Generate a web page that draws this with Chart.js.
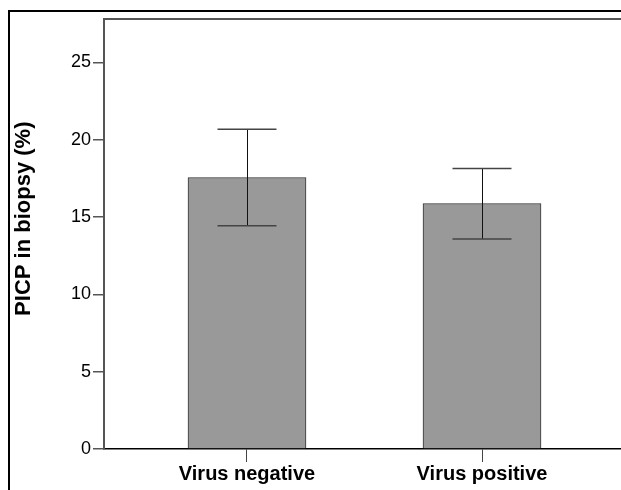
<!DOCTYPE html>
<html>
<head>
<meta charset="utf-8">
<script src="https://cdn.jsdelivr.net/npm/chart.js@4.4.0/dist/chart.umd.min.js"></script>
<style>
    html, body { margin: 0; padding: 0; background: #fff; overflow: hidden; width: 621px; height: 490px; }
    #frame { position: absolute; left: 8px; top: 10px; width: 700px; height: 520px; border-left: 2px solid #000; border-top: 2px solid #000; }
    #wrap { position: absolute; left: 0; top: 0; width: 640px; height: 490px; }
</style>
</head>
<body>
<div id="frame"></div>
<div id="wrap"><canvas id="chart"></canvas></div>
<script>
const categories = ['Virus negative', 'Virus positive'];
const means = [17.55, 15.87];
const errHigh = [20.67, 18.13];
const errLow = [14.43, 13.57];
const yTicks = [0, 5, 10, 15, 20, 25];

// error bars drawn from the data through the scales
const errorBars = {
    id: 'errorBars',
    afterDatasetsDraw(chart) {
        const { ctx, scales } = chart;
        const cap = 29.5;
        ctx.save();
        categories.forEach((c, i) => {
            const x = scales.x.getPixelForValue(i);
            const yh = scales.y.getPixelForValue(errHigh[i]);
            const yl = scales.y.getPixelForValue(errLow[i]);
            ctx.strokeStyle = '#111';
            ctx.lineWidth = 1;
            ctx.beginPath();
            ctx.moveTo(Math.round(x) + 0.5, yh);
            ctx.lineTo(Math.round(x) + 0.5, yl);
            ctx.stroke();
            ctx.strokeStyle = '#444';
            ctx.lineWidth = 1.5;
            ctx.beginPath();
            ctx.moveTo(x - cap, yh);
            ctx.lineTo(x + cap, yh);
            ctx.moveTo(x - cap, yl);
            ctx.lineTo(x + cap, yl);
            ctx.stroke();
        });
        ctx.restore();
    }
};

// top line of the plot frame
const topLine = {
    id: 'topLine',
    afterDraw(chart) {
        const { ctx, chartArea } = chart;
        ctx.save();
        ctx.strokeStyle = '#555';
        ctx.lineWidth = 2;
        ctx.beginPath();
        ctx.moveTo(chartArea.left, chartArea.top);
        ctx.lineTo(chart.width, chartArea.top);
        ctx.stroke();
        ctx.restore();
    }
};

const font = "'Liberation Sans', Arial, sans-serif";

new Chart(document.getElementById('chart'), {
    type: 'bar',
    data: {
        datasets: [{
            data: categories.map((c, i) => ({ x: i, y: means[i] })),
            backgroundColor: '#999999',
            borderColor: '#333333',
            borderWidth: 1,
            borderSkipped: 'bottom',
            barThickness: 118
        }]
    },
    options: {
        responsive: true,
        maintainAspectRatio: false,
        animation: false,
        layout: { padding: { top: 19, right: 15, left: 0, bottom: 0 } },
        plugins: { legend: { display: false }, tooltip: { enabled: false } },
        scales: {
            x: {
                type: 'linear',
                offset: false,
                min: -0.6085,
                max: 1.6085,
                afterBuildTicks: scale => { scale.ticks = categories.map((c, i) => ({ value: i })); },
                afterFit: scale => { scale.height = 41; },
                ticks: {
                    autoSkip: false,
                    maxRotation: 0,
                    padding: 0,
                    color: '#000',
                    font: { family: font, size: 20, weight: 'bold' },
                    callback: v => categories[v]
                },
                grid: { offset: false, drawOnChartArea: false, tickLength: 13, color: '#444', lineWidth: 1 },
                border: { color: '#000', width: 1.5 }
            },
            y: {
                min: 0,
                max: 27.8,
                afterBuildTicks: scale => { scale.ticks = yTicks.map(v => ({ value: v })); },
                afterFit: scale => { scale.width = 104; },
                ticks: {
                    padding: 2,
                    color: '#000',
                    font: { family: font, size: 18 }
                },
                grid: { drawOnChartArea: false, tickLength: 11, color: '#555', lineWidth: 1.5 },
                border: { color: '#555', width: 2 },
                title: {
                    display: true,
                    text: '\u00a0\u00a0\u00a0\u00a0\u00a0PICP in biopsy (%)',
                    color: '#000',
                    font: { family: font, size: 22, weight: 'bold' },
                    padding: { top: 11, bottom: 0 }
                }
            }
        }
    },
    plugins: [errorBars, topLine]
});
</script>
</body>
</html>
